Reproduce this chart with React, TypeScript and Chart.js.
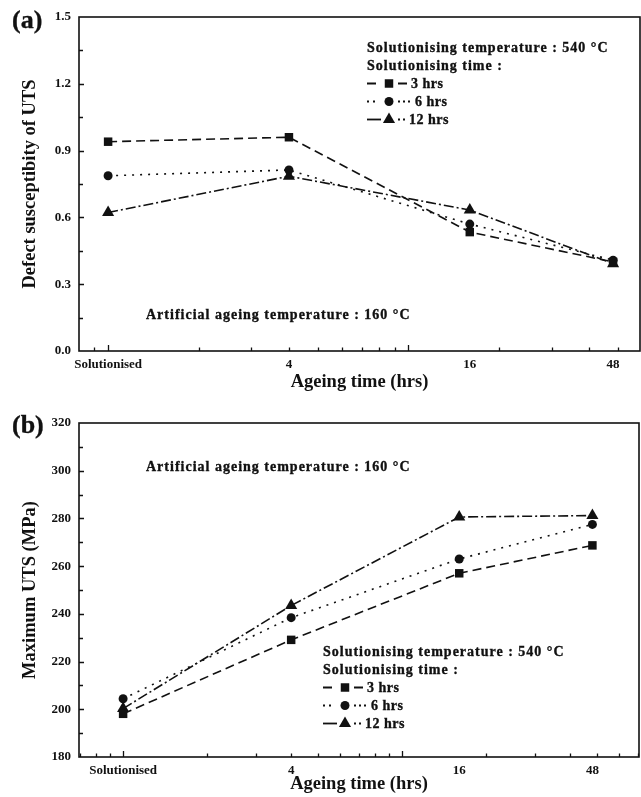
import React, { useEffect, useRef } from 'react';
import { Chart, registerables } from 'chart.js';

Chart.register(...registerables);

// Ageing time in hours; the solutionised state is placed at 1 h on the log axis.
const ageingHours = [1, 4, 16, 48];
const ageingLabels = ['Solutionised', '4', '16', '48'];
const seriesNames = ['3 hrs', '6 hrs', '12 hrs'];

// (a) Defect susceptibility of UTS
const susceptibility3h = [0.94, 0.96, 0.534, 0.4];
const susceptibility6h = [0.787, 0.813, 0.57, 0.408];
const susceptibility12h = [0.622, 0.785, 0.633, 0.392];
const susceptibilityTicks = [0, 0.3, 0.6, 0.9, 1.2, 1.5];

// (b) Maximum UTS (MPa)
const uts3h = [198.1, 229.1, 257.0, 268.7];
const uts6h = [204.4, 238.4, 263.0, 277.5];
const uts12h = [200.3, 243.5, 280.6, 281.2];
const utsTicks = [180, 200, 220, 240, 260, 280, 300, 320];

const FONT = '"Liberation Serif", "Times New Roman", serif';
const INK = '#111';

// Line and marker style of each series, plus the little key sample:
// solid pieces [from, to] and dots, measured from the start of the sample.
const seriesStyles = [
  { pointStyle: 'rect', radius: 6, dash: [9, 5], keyDashes: [[0, 9], [31, 40]], keyDots: [] as number[], keyText: 44 },
  { pointStyle: 'circle', radius: 4.5, dash: [2, 6], keyDashes: [] as number[][], keyDots: [1, 7, 32, 37, 42], keyText: 48 },
  { pointStyle: 'triangle', radius: 7, dash: [10, 3, 2, 3], keyDashes: [[0, 14]], keyDots: [32, 37], keyText: 42 },
];

const logTickValues = [0.7, 0.8, 0.9, 1, 2, 3, 4, 5, 6, 7, 8, 9, 10, 20, 30, 40, 50, 60, 70];

type Note = { text: string; x: number; y: number };

interface PanelSpec {
  height: number;
  areaTop: number;
  areaBottom: number;
  padRight: number;
  xRange: [number, number];
  yRange: [number, number];
  yTicks: number[];
  yDecimals: number;
  yTitle: string;
  series: number[][];
  letter: Note;
  notes: Note[];
  legend: { x: number; y: number };
}

function drawMarker(ctx: CanvasRenderingContext2D, style: string, r: number, x: number, y: number) {
  ctx.beginPath();
  if (style === 'rect') {
    const s = Math.SQRT1_2 * r;
    ctx.rect(x - s, y - s, 2 * s, 2 * s);
  } else if (style === 'circle') {
    ctx.arc(x, y, r, 0, Math.PI * 2);
  } else {
    const w = r * Math.sin(Math.PI / 3);
    ctx.moveTo(x, y - r);
    ctx.lineTo(x + w, y + r / 2);
    ctx.lineTo(x - w, y + r / 2);
    ctx.closePath();
  }
  ctx.fillStyle = INK;
  ctx.fill();
}

// bold text with a hairline outline so it reads as heavy as print
function heavyText(ctx: CanvasRenderingContext2D, text: string, x: number, y: number) {
  ctx.fillText(text, x, y);
  ctx.strokeText(text, x, y);
}

function makeConfig(spec: PanelSpec): any {
  const tickFont = { family: FONT, size: 13, weight: 'bold' as const };
  const titleFont = { family: FONT, size: 18.5, weight: 'bold' as const };

  const decorations = {
    id: 'panelDecorations',
    beforeDatasetsDraw(chart: any) {
      const { ctx, chartArea } = chart;
      const xs = chart.scales.x;
      const ys = chart.scales.y;
      ctx.save();
      ctx.strokeStyle = INK;
      ctx.lineWidth = 1.6;
      ctx.strokeRect(chartArea.left, chartArea.top, chartArea.right - chartArea.left, chartArea.bottom - chartArea.top);

      ctx.lineWidth = 1.3;
      ctx.beginPath();
      // inward tick marks on the log time axis
      for (const v of logTickValues) {
        if (v <= spec.xRange[0] * 1.001 || v >= spec.xRange[1] * 0.999) continue;
        const px = Math.round(xs.getPixelForValue(v)) + 0.5;
        const len = v === 1 || v === 10 ? 6 : 3.5;
        ctx.moveTo(px, chartArea.bottom);
        ctx.lineTo(px, chartArea.bottom - len);
      }
      // inward major and minor tick marks on the value axis
      const step = spec.yTicks[1] - spec.yTicks[0];
      for (let i = 0; i < spec.yTicks.length; i++) {
        const v = spec.yTicks[i];
        const vals = [v, v + step / 2];
        vals.forEach((val, k) => {
          if (val <= spec.yRange[0] + 1e-9 || val >= spec.yRange[1] - 1e-9) return;
          const py = Math.round(ys.getPixelForValue(val)) + 0.5;
          ctx.moveTo(chartArea.left, py);
          ctx.lineTo(chartArea.left + (k === 0 ? 5 : 4), py);
        });
      }
      ctx.stroke();
      ctx.restore();
    },
    afterDraw(chart: any) {
      const { ctx } = chart;
      ctx.save();
      ctx.fillStyle = INK;
      ctx.strokeStyle = INK;
      ctx.lineWidth = 0.35;

      ctx.font = `bold 26px ${FONT}`;
      ctx.textBaseline = 'middle';
      ctx.textAlign = 'left';
      heavyText(ctx, spec.letter.text, spec.letter.x, spec.letter.y);

      ctx.textBaseline = 'alphabetic';
      ctx.font = `bold 14px ${FONT}`;
      (ctx as any).letterSpacing = '1px';
      for (const n of spec.notes) heavyText(ctx, n.text, n.x, n.y);

      const lx = spec.legend.x;
      let ly = spec.legend.y;
      heavyText(ctx, 'Solutionising temperature : 540 \u00B0C', lx, ly);
      ly += 18;
      heavyText(ctx, 'Solutionising time :', lx, ly);
      (ctx as any).letterSpacing = '0.5px';
      for (let i = 0; i < seriesNames.length; i++) {
        ly += 18;
        const st = seriesStyles[i];
        const my = ly - 4.5;
        ctx.save();
        ctx.lineWidth = 1.8;
        ctx.beginPath();
        for (const [a, b] of st.keyDashes) {
          ctx.moveTo(lx + a, my);
          ctx.lineTo(lx + b, my);
        }
        ctx.stroke();
        for (const d of st.keyDots) ctx.fillRect(lx + d - 1, my - 1, 2, 2);
        ctx.restore();
        drawMarker(ctx, st.pointStyle, st.radius, lx + 22, my);
        ctx.fillStyle = INK;
        heavyText(ctx, seriesNames[i], lx + st.keyText, ly);
      }
      ctx.restore();
    },
  };

  return {
    type: 'line',
    data: {
      datasets: spec.series.map((vals, i) => ({
        label: seriesNames[i],
        data: ageingHours.map((h, j) => ({ x: h, y: vals[j] })),
        borderColor: INK,
        backgroundColor: INK,
        borderWidth: 1.6,
        borderDash: seriesStyles[i].dash,
        pointStyle: seriesStyles[i].pointStyle,
        pointRadius: seriesStyles[i].radius,
        pointBorderWidth: 0,
        pointBackgroundColor: INK,
        tension: 0,
        fill: false,
        clip: false,
      })),
    },
    options: {
      responsive: false,
      animation: false,
      events: [],
      layout: {
        autoPadding: false,
        padding: { top: spec.areaTop, right: spec.padRight, left: 0, bottom: 0 },
      },
      plugins: { legend: { display: false }, tooltip: { enabled: false } },
      scales: {
        x: {
          type: 'logarithmic',
          min: spec.xRange[0],
          max: spec.xRange[1],
          afterBuildTicks: (scale: any) => {
            scale.ticks = ageingHours.map((v) => ({ value: v }));
          },
          afterFit: (scale: any) => {
            scale.height = spec.height - spec.areaBottom;
          },
          ticks: {
            autoSkip: false,
            maxRotation: 0,
            padding: 6,
            color: INK,
            font: tickFont,
            callback: (_v: any, i: number) => ageingLabels[i],
          },
          grid: { display: false, drawTicks: false },
          border: { display: false },
          title: {
            display: true,
            text: 'Ageing time (hrs)',
            color: INK,
            font: titleFont,
            padding: { top: 0, bottom: 2 },
          },
        },
        y: {
          type: 'linear',
          min: spec.yRange[0],
          max: spec.yRange[1],
          afterBuildTicks: (scale: any) => {
            scale.ticks = spec.yTicks.map((v) => ({ value: v }));
          },
          afterFit: (scale: any) => {
            scale.width = 79;
          },
          ticks: {
            padding: 8,
            color: INK,
            font: tickFont,
            callback: (v: any) => Number(v).toFixed(spec.yDecimals),
          },
          grid: { display: false, drawTicks: false },
          border: { display: false },
          title: {
            display: true,
            text: spec.yTitle,
            color: INK,
            font: titleFont,
            padding: { top: 19, bottom: 0 },
          },
        },
      },
    },
    plugins: [decorations],
  };
}

const panelA: PanelSpec = {
  height: 395,
  areaTop: 17,
  areaBottom: 351,
  padRight: 1,
  xRange: [0.8, 59],
  yRange: [0, 1.5],
  yTicks: susceptibilityTicks,
  yDecimals: 1,
  yTitle: 'Defect susceptibity of UTS',
  series: [susceptibility3h, susceptibility6h, susceptibility12h],
  letter: { text: '(a)', x: 12, y: 21 },
  notes: [{ text: 'Artificial ageing temperature : 160 \u00B0C', x: 146, y: 319 }],
  legend: { x: 367, y: 52 },
};

const panelB: PanelSpec = {
  height: 402,
  areaTop: 28,
  areaBottom: 362,
  padRight: 2,
  xRange: [0.695, 70.5],
  yRange: [180, 320],
  yTicks: utsTicks,
  yDecimals: 0,
  yTitle: 'Maximum UTS (MPa)',
  series: [uts3h, uts6h, uts12h],
  letter: { text: '(b)', x: 12, y: 31 },
  notes: [{ text: 'Artificial ageing temperature : 160 \u00B0C', x: 146, y: 76 }],
  legend: { x: 323, y: 261 },
};

function Panel({ spec, top }: { spec: PanelSpec; top: number }) {
  const ref = useRef<HTMLCanvasElement | null>(null);
  useEffect(() => {
    if (!ref.current) return;
    const chart = new Chart(ref.current, makeConfig(spec));
    return () => chart.destroy();
  }, [spec]);
  return (
    <canvas
      ref={ref}
      width={641}
      height={spec.height}
      style={{ position: 'absolute', left: 0, top, width: 641, height: spec.height }}
    />
  );
}

export default function App() {
  return (
    <div style={{ position: 'absolute', left: 0, top: 0, width: 641, height: 797, background: '#fff' }}>
      <Panel spec={panelA} top={0} />
      <Panel spec={panelB} top={395} />
    </div>
  );
}
